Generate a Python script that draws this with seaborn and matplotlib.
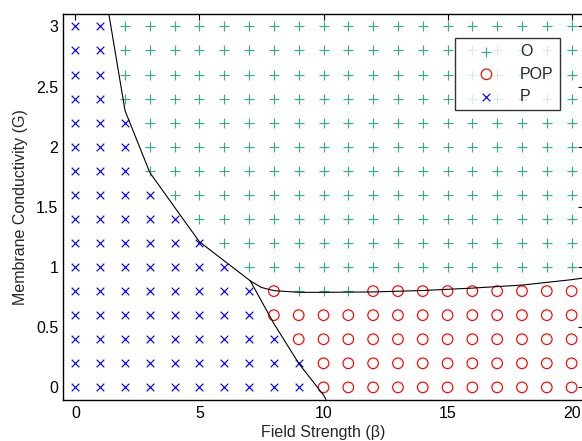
import matplotlib
matplotlib.use("Agg")
import matplotlib.pyplot as plt
import seaborn as sns
import pandas as pd

# ---- data ----
beta_values = list(range(0, 21))  # Field Strength (beta) columns
G_values = [3.0, 2.8, 2.6, 2.4, 2.2, 2.0, 1.8, 1.6, 1.4, 1.2, 1.0, 0.8, 0.6, 0.4, 0.2, 0.0]
# regime per grid point: 'x' = P, '+' = O, 'o' = POP (one string per G row, one char per beta)
regime_rows = [
    "xx+++++++++++++++++++",  # 3.0
    "xx+++++++++++++++++++",  # 2.8
    "xx+++++++++++++++++++",  # 2.6
    "xx+++++++++++++++++++",  # 2.4
    "xxx++++++++++++++++++",  # 2.2
    "xxx++++++++++++++++++",  # 2.0
    "xxx++++++++++++++++++",  # 1.8
    "xxxx+++++++++++++++++",  # 1.6
    "xxxxx++++++++++++++++",  # 1.4
    "xxxxxx+++++++++++++++",  # 1.2
    "xxxxxxx++++++++++++++",  # 1.0
    "xxxxxxxxo+++ooooooooo",  # 0.8
    "xxxxxxxxooooooooooooo",  # 0.6
    "xxxxxxxxxoooooooooooo",  # 0.4
    "xxxxxxxxxxooooooooooo",  # 0.2
    "xxxxxxxxxxooooooooooo",  # 0.0
]
regime_names = {"+": "O", "o": "POP", "x": "P"}
legend_order = ["O", "POP", "P"]

# boundary curves
bnd_P_O_beta = [1.35, 2.0, 3.0, 4.37, 5.0, 7.05]
bnd_P_O_G = [3.1, 2.3, 1.785, 1.39, 1.21, 0.885]
bnd_O_POP_beta = [7.05, 7.5, 8.0, 9.0, 10.0, 12.0, 14.0, 16.0, 18.0, 20.0, 20.6]
bnd_O_POP_G = [0.885, 0.83, 0.804, 0.79, 0.79, 0.793, 0.805, 0.825, 0.85, 0.895, 0.912]
bnd_P_POP_beta = [7.05, 8.0, 9.0, 10.0, 10.1]
bnd_P_POP_G = [0.885, 0.53, 0.2, -0.064, -0.1]

x_ticks = [0, 5, 10, 15, 20]
y_ticks = [0, 0.5, 1, 1.5, 2, 2.5, 3]
y_ticklabels = ["0", "0.5", "1", "1.5", "2", "2.5", "3"]

# ---- build table ----
records = []
for g, row in zip(G_values, regime_rows):
    for b, ch in zip(beta_values, row):
        records.append({"beta": b, "G": g, "regime": regime_names[ch]})
df = pd.DataFrame(records)

# ---- styling ----
sns.set_style("white")
plt.rcParams["font.family"] = ["Liberation Sans", "DejaVu Sans"]
plt.rcParams["font.size"] = 11.5

fig = plt.figure(figsize=(5.82, 4.41), dpi=100)
W, H = 582, 441
left, right, top, bottom = 63, 584, 14, 400
ax = fig.add_axes([left / W, 1 - bottom / H, (right - left) / W, (bottom - top) / H])

green = "#35b07e"
styles = {
    "O": dict(marker="+", color=green, s=52, linewidth=0.85),
    "POP": dict(marker="o", facecolor="none", edgecolor="red", s=58, linewidth=0.85),
    "P": dict(marker="x", color="blue", s=30, linewidth=0.85),
}
for name in legend_order:
    sub = df[df["regime"] == name]
    sns.scatterplot(data=sub, x="beta", y="G", ax=ax, label=name, zorder=3, **styles[name])

sns.lineplot(x=bnd_P_O_beta, y=bnd_P_O_G, ax=ax, color="black", linewidth=0.8,
             sort=False, estimator=None, zorder=4)
sns.lineplot(x=bnd_O_POP_beta, y=bnd_O_POP_G, ax=ax, color="black", linewidth=0.8,
             sort=False, estimator=None, zorder=4)
sns.lineplot(x=bnd_P_POP_beta, y=bnd_P_POP_G, ax=ax, color="black", linewidth=0.8,
             sort=False, estimator=None, zorder=4)

ax.set_xlim(-0.5, 20.5)
ax.set_ylim(-0.105, 3.103)
ax.set_xticks(x_ticks)
ax.set_xticklabels([str(t) for t in x_ticks])
ax.set_yticks(y_ticks)
ax.set_yticklabels(y_ticklabels)
ax.tick_params(direction="in", length=4, width=0.8, top=True, right=True,
               labelsize=11.5, colors="black")
ax.tick_params(axis="x", pad=4.5)
ax.tick_params(axis="y", pad=3.5)
for sp in ax.spines.values():
    sp.set_visible(True)
    sp.set_color("black")
    sp.set_linewidth(1.0)

ax.set_xlabel("Field Strength (\u03b2)", fontsize=11.5, labelpad=3)
ax.set_ylabel("Membrane Conductivity (G)", fontsize=11.5, labelpad=6)

leg = ax.legend(loc="upper right", bbox_to_anchor=(0.954, 0.938), frameon=True,
                fancybox=False, edgecolor="black", fontsize=11.5,
                borderpad=0.4, labelspacing=0.45, handletextpad=0.5,
                handlelength=3.2, borderaxespad=0)
leg.get_frame().set_linewidth(1.0)

fig.savefig("out.png", dpi=100)
